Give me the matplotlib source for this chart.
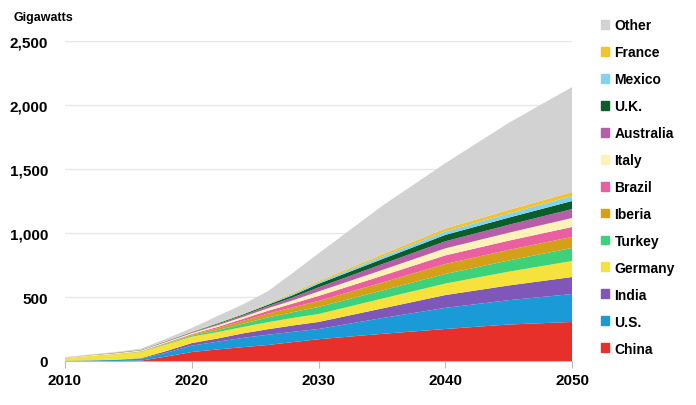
import matplotlib
matplotlib.use("Agg")
import matplotlib.pyplot as plt
from matplotlib.patches import Patch

years = [2010, 2012, 2014, 2016, 2018, 2020, 2022, 2024, 2026, 2028, 2030, 2035, 2040, 2045, 2050]

china = [0, 0, 0, 3, 35, 70, 90, 108, 125, 148, 170, 212, 250, 285, 305]
us = [2, 4, 8, 15, 30, 50, 60, 72, 80, 80, 80, 123, 165, 190, 218]
india = [0, 1, 2, 4, 13, 20, 25, 35, 43, 50, 55, 75, 100, 115, 133]
germany = [18, 33, 42, 48, 52, 50, 50, 50, 55, 59, 62, 77, 90, 108, 125]
turkey = [0, 0, 1, 2, 5, 8, 15, 25, 37, 45, 55, 63, 75, 87, 102]
iberia = [2, 2, 2, 3, 5, 7, 15, 22, 30, 38, 47, 62, 78, 83, 86]
brazil = [0, 0, 0, 1, 3, 5, 10, 16, 22, 30, 39, 53, 67, 72, 78]
italy = [3, 5, 6, 7, 7, 8, 13, 15, 20, 25, 35, 45, 55, 62, 70]
australia = [1, 1, 2, 2, 3, 5, 8, 12, 16, 23, 32, 46, 55, 62, 70]
uk = [0, 1, 2, 2, 3, 3, 6, 7, 11, 17, 28, 39, 50, 56, 63]
mexico = [0, 0, 0, 1, 1, 2, 3, 4, 6, 11, 13, 20, 27, 32, 39]
france = [1, 1, 1, 1, 1, 2, 3, 4, 5, 9, 10, 17, 23, 28, 31]
other = [3, 4, 4, 8, 17, 28, 52, 70, 95, 155, 214, 378, 510, 680, 820]

labels = ["China", "U.S.", "India", "Germany", "Turkey", "Iberia", "Brazil",
          "Italy", "Australia", "U.K.", "Mexico", "France", "Other"]
colors = ["#e8302a", "#1a9ad6", "#7e57b8", "#f7e23c", "#3dd17a", "#d4a017",
          "#ea5fa0", "#fdf2b8", "#b65fa8", "#0b5e2a", "#80d4f0", "#f3c22c", "#d2d2d2"]
series = [china, us, india, germany, turkey, iberia, brazil,
          italy, australia, uk, mexico, france, other]

font = ["Liberation Sans", "DejaVu Sans"]
plt.rcParams["font.family"] = font

fig = plt.figure(figsize=(6.96, 4.06), dpi=100)
ax = fig.add_axes([65 / 696, 1 - 362 / 406, (572 - 65) / 696, 320 / 406])

ax.stackplot(years, *series, colors=colors, linewidth=0)

ax.set_xlim(2010, 2050)
ax.set_ylim(0, 2500)
ax.set_yticks([0, 500, 1000, 1500, 2000, 2500])
ax.set_yticklabels(["0", "500", "1,000", "1,500", "2,000", "2,500"])
ax.set_xticks([2010, 2020, 2030, 2040, 2050])
ax.grid(axis="y", color="#e6e6e6", linewidth=1)
ax.set_axisbelow(True)
for s in ["left", "right", "top"]:
    ax.spines[s].set_visible(False)
ax.spines["bottom"].set_color("#bbbbbb")
ax.tick_params(axis="y", length=0, pad=12, labelsize=11)
ax.tick_params(axis="x", length=5, color="#bbbbbb", pad=4, labelsize=11)
for t in ax.get_xticklabels() + ax.get_yticklabels():
    t.set_fontweight("bold")

fig.text(14 / 696, 1 - 18 / 406, "Gigawatts", fontsize=9, fontweight="bold", va="center")

handles = [Patch(color=c) for c in colors][::-1]
leg = fig.legend(handles, labels[::-1], loc="upper left",
                 bbox_to_anchor=(588 / 696, 1 - 7 / 406), frameon=False,
                 handlelength=0.6, handleheight=0.6, handletextpad=0.4,
                 labelspacing=0.93, prop={"family": font, "weight": "bold", "size": 10})

fig.savefig("out.png", dpi=100)
